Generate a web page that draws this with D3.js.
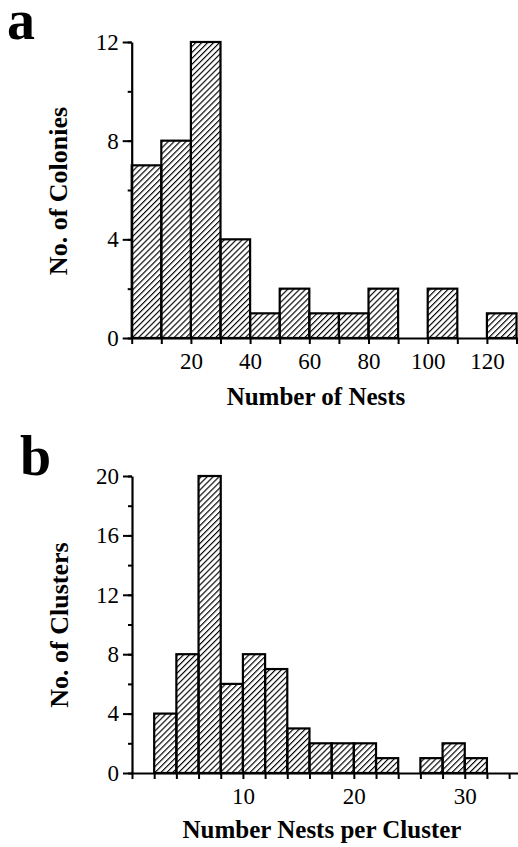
<!DOCTYPE html>
<html>
<head>
<meta charset="utf-8">
<script src="https://cdn.jsdelivr.net/npm/d3@7"></script>
<style>
  body { margin: 0; background: #fff; }
  svg { display: block; }
</style>
</head>
<body>
<svg id="chart" width="518" height="847"></svg>
<script>
// panel a: colonies by number of nests (bins of 10)
var nestBinStart = [0, 10, 20, 30, 40, 50, 60, 70, 80, 90, 100, 110, 120];
var colonyCounts = [7, 8, 12, 4, 1, 2, 1, 1, 2, 0, 2, 0, 1];
var nestTickLabels = [20, 40, 60, 80, 100, 120];
var colonyTickLabels = [0, 4, 8, 12];

// panel b: clusters by nests per cluster (bins of 2)
var clusterBinStart = [2, 4, 6, 8, 10, 12, 14, 16, 18, 20, 22, 24, 26, 28, 30];
var clusterCounts = [4, 8, 20, 6, 8, 7, 3, 2, 2, 2, 1, 0, 1, 2, 1];
var clusterTickLabels = [10, 20, 30];
var clusterYTickLabels = [0, 4, 8, 12, 16, 20];

var svg = d3.select("#chart");
var serif = "'Liberation Serif', 'Times New Roman', serif";

// hatch pattern
var defs = svg.append("defs");
defs.append("pattern")
  .attr("id", "hatch")
  .attr("patternUnits", "userSpaceOnUse")
  .attr("width", 4.2)
  .attr("height", 4.2)
  .attr("patternTransform", "rotate(45)")
  .append("line")
  .attr("x1", 0).attr("y1", 0)
  .attr("x2", 0).attr("y2", 4.2)
  .attr("stroke", "#000")
  .attr("stroke-width", 2.3);

function drawPanel(opt) {
  var g = svg.append("g");
  var x = d3.scaleLinear().domain(opt.xDomain).range(opt.xRange);
  var y = d3.scaleLinear().domain(opt.yDomain).range(opt.yRange);

  // bars
  g.selectAll("rect.bar")
    .data(opt.starts.map((s, i) => ({ s: s, c: opt.counts[i] })).filter(d => d.c > 0))
    .enter().append("rect")
    .attr("class", "bar")
    .attr("x", d => x(d.s))
    .attr("width", d => x(d.s + opt.binWidth) - x(d.s))
    .attr("y", d => y(d.c))
    .attr("height", d => y(0) - y(d.c))
    .attr("fill", "url(#hatch)")
    .attr("stroke", "#000")
    .attr("stroke-width", 2.2);

  // x axis: all ticks, labels only on some
  var xAxis = d3.axisBottom(x)
    .tickValues(opt.xTicks)
    .tickSize(6)
    .tickSizeOuter(0)
    .tickFormat(d => opt.xLabels.indexOf(d) >= 0 ? d : "");
  var xg = g.append("g").attr("transform", "translate(0," + y(0) + ")").call(xAxis);
  xg.attr("font-family", serif);
  xg.select(".domain").attr("stroke-width", 2.2);
  xg.selectAll(".tick line").attr("stroke-width", 2);
  xg.selectAll(".tick text").attr("font-size", 23).attr("font-family", serif)
    .attr("dy", "0.95em").attr("fill", "#000");

  // y axis minor ticks
  var yMinor = d3.axisLeft(y).tickValues(opt.yTicks).tickSize(4).tickSizeOuter(0).tickFormat("");
  var ymg = g.append("g").attr("transform", "translate(" + x(0) + ",0)").call(yMinor);
  ymg.select(".domain").attr("stroke-width", 2.2);
  ymg.selectAll(".tick line").attr("stroke-width", 2);

  // y axis major ticks with labels
  var yMajor = d3.axisLeft(y).tickValues(opt.yLabels).tickSize(9).tickPadding(4).tickSizeOuter(0);
  var yg = g.append("g").attr("transform", "translate(" + x(0) + ",0)").call(yMajor);
  yg.attr("font-family", serif);
  yg.select(".domain").remove();
  yg.selectAll(".tick line").attr("stroke-width", 2);
  yg.selectAll(".tick text").attr("font-size", 23).attr("font-family", serif).attr("fill", "#000");

  // axis titles
  g.append("text")
    .attr("x", opt.xTitlePos[0]).attr("y", opt.xTitlePos[1])
    .attr("text-anchor", "middle")
    .attr("font-family", serif).attr("font-weight", "bold").attr("font-size", 25)
    .text(opt.xTitle);
  g.append("text")
    .attr("transform", "translate(" + opt.yTitlePos[0] + "," + opt.yTitlePos[1] + ") rotate(-90)")
    .attr("text-anchor", "middle")
    .attr("font-family", serif).attr("font-weight", "bold").attr("font-size", 26)
    .text(opt.yTitle);

  // panel letter
  g.append("text")
    .attr("x", opt.letterPos[0]).attr("y", opt.letterPos[1])
    .attr("font-family", serif).attr("font-weight", "bold").attr("font-size", 56)
    .text(opt.letter);
}

drawPanel({
  starts: nestBinStart, counts: colonyCounts, binWidth: 10,
  xDomain: [0, 130.5], xRange: [131.7, 518],
  yDomain: [0, 12], yRange: [338, 42],
  xTicks: d3.range(0, 131, 10), xLabels: nestTickLabels,
  yTicks: d3.range(0, 13, 2), yLabels: colonyTickLabels,
  xTitle: "Number of Nests", xTitlePos: [316, 405],
  yTitle: "No. of Colonies", yTitlePos: [67, 191],
  letter: "a", letterPos: [7, 39]
});

drawPanel({
  starts: clusterBinStart, counts: clusterCounts, binWidth: 2,
  xDomain: [0, 34.8], xRange: [132, 518],
  yDomain: [0, 20], yRange: [773, 476],
  xTicks: d3.range(0, 35, 2), xLabels: clusterTickLabels,
  yTicks: d3.range(0, 21, 2), yLabels: clusterYTickLabels,
  xTitle: "Number Nests per Cluster", xTitlePos: [322, 838],
  yTitle: "No. of Clusters", yTitlePos: [68, 625],
  letter: "b", letterPos: [20, 475]
});
</script>
</body>
</html>
